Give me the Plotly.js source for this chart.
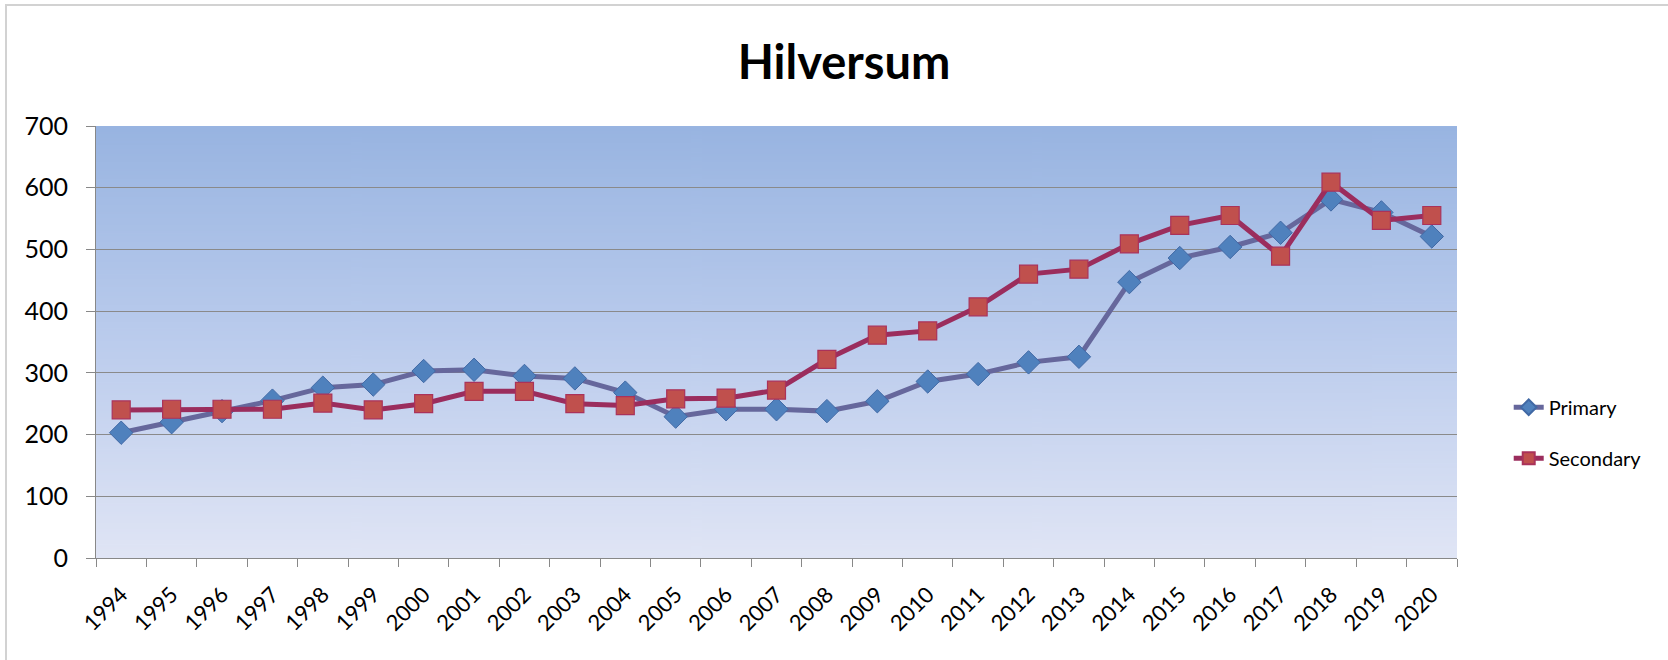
<!DOCTYPE html>
<html>
<head>
<meta charset="utf-8">
<script src="https://cdn.plot.ly/plotly-3.0.1.min.js"></script>
<style>
  html, body { margin: 0; padding: 0; background: #fff; overflow: hidden; }
  #chart { width: 1668px; height: 660px; position: absolute; left: 0; top: 0; }
  #frame { position: absolute; left: 5px; top: 4px; width: 1700px; height: 700px;
           border-left: 2px solid #d2d2d2; border-top: 2px solid #d2d2d2; pointer-events: none; }
</style>
</head>
<body>
<div id="chart"></div>
<div id="frame"></div>
<script>
const years = ['1994','1995','1996','1997','1998','1999','2000','2001','2002','2003',
               '2004','2005','2006','2007','2008','2009','2010','2011','2012','2013',
               '2014','2015','2016','2017','2018','2019','2020'];
const primary = [203, 220, 238, 255, 276, 281, 303, 305, 295, 291,
                 268, 229, 241, 241, 238, 254, 286, 298, 317, 326,
                 447, 486, 504, 527, 581, 560, 521];
const secondary = [240, 241, 241, 241, 251, 240, 250, 270, 270, 250,
                   247, 258, 259, 272, 322, 361, 368, 407, 460, 468,
                   509, 539, 555, 489, 609, 547, 555];
const yTicks = [0, 100, 200, 300, 400, 500, 600, 700];

// gradient background for the plot area
const cv = document.createElement('canvas');
cv.width = 8; cv.height = 400;
const cx = cv.getContext('2d');
const g = cx.createLinearGradient(0, 0, 0, 400);
g.addColorStop(0, 'rgb(152,180,225)');
g.addColorStop(0.5, 'rgb(187,204,237)');
g.addColorStop(1, 'rgb(224,229,245)');
cx.fillStyle = g; cx.fillRect(0, 0, 8, 400);
const bgUrl = cv.toDataURL('image/png');

const FONT = 'Lato, "Open Sans", sans-serif';

const traces = [
  {
    x: years, y: primary, name: 'Primary', type: 'scatter', mode: 'lines+markers',
    legendgroup: 'p',
    line: { color: 'rgb(102,103,156)', width: 5 },
    marker: { symbol: 'diamond', size: 18, color: 'rgb(79,129,189)',
              line: { color: 'rgb(65,105,165)', width: 1 } }
  },
  {
    x: years, y: secondary, name: 'Secondary', type: 'scatter', mode: 'lines+markers',
    legendgroup: 's',
    line: { color: 'rgb(155,45,93)', width: 5 },
    marker: { symbol: 'square', size: 18, color: 'rgb(192,80,77)',
              line: { color: 'rgb(170,50,90)', width: 1.2 } }
  }
];

const layout = {
  width: 1668, height: 660,
  margin: { l: 96, r: 211, t: 126, b: 102, pad: 0 },
  paper_bgcolor: 'rgba(255,255,255,1)',
  plot_bgcolor: 'rgba(0,0,0,0)',
  font: { family: FONT, color: '#000' },
  title: {
    text: 'Hilversum', font: { family: FONT, size: 47, weight: 'bold', color: '#000' },
    xref: 'container', x: 0.506, xanchor: 'center',
    yref: 'container', y: 0.905, yanchor: 'middle'
  },
  showlegend: true,
  legend: {
    x: 1.038, xanchor: 'left', y: 0.29, yanchor: 'middle',
    font: { family: FONT, size: 20, color: '#000' },
    traceorder: 'grouped', tracegroupgap: 22, itemsizing: 'constant',
    bgcolor: 'rgba(0,0,0,0)'
  },
  xaxis: {
    type: 'category', range: [-0.5, 26.5], fixedrange: true,
    tickangle: -45, tickfont: { family: FONT, size: 22, color: '#000' },
    ticks: 'outside', ticklen: 8, tickcolor: '#888', tickwidth: 1,
    tickson: 'boundaries', ticklabelstandoff: 14,
    showline: true, linecolor: '#888', linewidth: 1,
    showgrid: false, zeroline: false
  },
  yaxis: {
    range: [0, 700], tickvals: yTicks, ticktext: yTicks.map(String), fixedrange: true,
    tickfont: { family: FONT, size: 25, color: '#000' },
    ticks: 'outside', ticklen: 9, tickcolor: '#888', tickwidth: 1,
    ticklabelstandoff: 13,
    showline: true, linecolor: '#888', linewidth: 1,
    showgrid: true, gridcolor: '#8a8a8a', gridwidth: 1, zeroline: false
  },
  images: [{
    source: bgUrl, xref: 'paper', yref: 'paper', x: 0, y: 1, sizex: 1, sizey: 1,
    xanchor: 'left', yanchor: 'top', sizing: 'stretch', layer: 'below'
  }]
};

Plotly.newPlot('chart', traces, layout, { displayModeBar: false, staticPlot: true });
</script>
</body>
</html>
